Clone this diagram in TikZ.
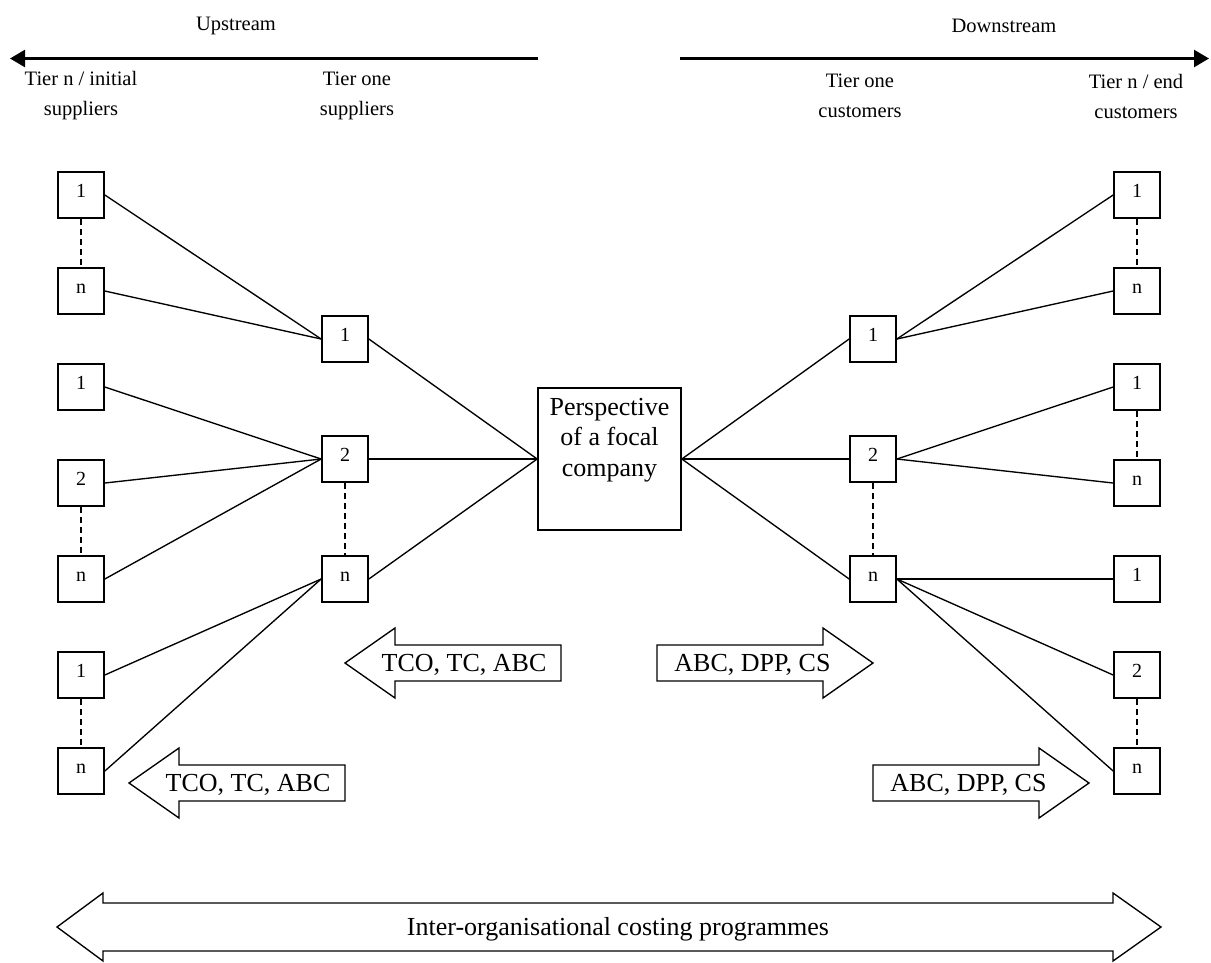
\documentclass[tikz,border=0pt]{standalone}
\usepackage{fontspec}
\setmainfont{Liberation Serif}
\usetikzlibrary{arrows.meta}
\begin{document}
\begin{tikzpicture}[x=1pt,y=-1pt,
  sbox/.style={draw,line width=1.7pt,minimum size=46pt,inner sep=0pt,text height=14pt,text depth=10pt,font=\fontsize{20}{24}\selectfont},
  link/.style={line width=1.35pt},
  dotlink/.style={line width=1.35pt,dash pattern=on 6pt off 4pt},
  blk/.style={draw,line width=1.35pt,line join=miter},
  small/.style={font=\fontsize{20.5}{30}\selectfont,align=center,inner sep=0pt},
  big/.style={font=\fontsize{26}{30.5}\selectfont,align=center,inner sep=0pt},
  headarrow/.style={line width=2.4pt,-{Triangle[length=15pt,width=17pt]}},
]
\useasboundingbox (0,0) rectangle (1211,962);

% header
\node[small] (upstream) at (236,26) {Upstream};
\node[small] (downstream) at (1004,26) {Downstream};
\coordinate (upR) at (538,58.5);
\coordinate (upL) at (10,58.5);
\coordinate (dnL) at (680,58.5);
\coordinate (dnR) at (1209,58.5);
\draw[headarrow] (upR) -- (upL);
\draw[headarrow] (dnL) -- (dnR);
\node[small] (tierninit) at (81,96) {Tier n / initial\\suppliers};
\node[small] (tieronesup) at (357,96) {Tier one\\suppliers};
\node[small] (tieronecus) at (860,96) {Tier one\\customers};
\node[small] (tiernend) at (1136,96) {Tier n / end\\customers};

% left end column
\node[sbox] (la1) at (81,195) {1};
\node[sbox] (lan) at (81,291) {n};
\node[sbox] (lb1) at (81,387) {1};
\node[sbox] (lb2) at (81,483) {2};
\node[sbox] (lbn) at (81,579) {n};
\node[sbox] (lc1) at (81,675) {1};
\node[sbox] (lcn) at (81,771) {n};
% left tier one
\node[sbox] (t1) at (345,339) {1};
\node[sbox] (t2) at (345,459) {2};
\node[sbox] (tn) at (345,579) {n};
% focal
\node[draw,line width=1.7pt,minimum width=143pt,minimum height=142pt,inner sep=0pt] (focal) at (609.5,459) {};
\node[big] (focaltext) at (609.5,440) {Perspective\\of a focal\\company};
% right tier one
\node[sbox] (r1) at (873,339) {1};
\node[sbox] (r2) at (873,459) {2};
\node[sbox] (rn) at (873,579) {n};
% right end column
\node[sbox] (ra1) at (1137,195) {1};
\node[sbox] (ran) at (1137,291) {n};
\node[sbox] (rb1) at (1137,387) {1};
\node[sbox] (rbn) at (1137,483) {n};
\node[sbox] (rc1) at (1137,579) {1};
\node[sbox] (rc2) at (1137,675) {2};
\node[sbox] (rcn) at (1137,771) {n};

% dashed
\draw[dotlink] (la1) -- (lan);
\draw[dotlink] (lb2) -- (lbn);
\draw[dotlink] (lc1) -- (lcn);
\draw[dotlink] (t2) -- (tn);
\draw[dotlink] (r2) -- (rn);
\draw[dotlink] (ra1) -- (ran);
\draw[dotlink] (rb1) -- (rbn);
\draw[dotlink] (rc2) -- (rcn);

% links left
\draw[link] (la1.east) -- (t1.west);
\draw[link] (lan.east) -- (t1.west);
\draw[link] (lb1.east) -- (t2.west);
\draw[link] (lb2.east) -- (t2.west);
\draw[link] (lbn.east) -- (t2.west);
\draw[link] (lc1.east) -- (tn.west);
\draw[link] (lcn.east) -- (tn.west);
\draw[link] (t1.east) -- (focal.west);
\draw[link] (t2.east) -- (focal.west);
\draw[link] (tn.east) -- (focal.west);
% links right
\draw[link] (focal.east) -- (r1.west);
\draw[link] (focal.east) -- (r2.west);
\draw[link] (focal.east) -- (rn.west);
\draw[link] (r1.east) -- (ra1.west);
\draw[link] (r1.east) -- (ran.west);
\draw[link] (r2.east) -- (rb1.west);
\draw[link] (r2.east) -- (rbn.west);
\draw[link] (rn.east) -- (rc1.west);
\draw[link] (rn.east) -- (rc2.west);
\draw[link] (rn.east) -- (rcn.west);

% block arrows
\draw[blk] (345,663) -- ++(50,-35) -- ++(0,17) -- ++(166,0) -- ++(0,36) -- ++(-166,0) -- ++(0,17) -- cycle;
\node[big] (tcoA) at (464,665) {TCO, TC, ABC};
\draw[blk] (129,783) -- ++(50,-35) -- ++(0,17) -- ++(166,0) -- ++(0,36) -- ++(-166,0) -- ++(0,17) -- cycle;
\node[big] (tcoB) at (248,785) {TCO, TC, ABC};
\draw[blk] (873,663) -- ++(-50,-35) -- ++(0,17) -- ++(-166,0) -- ++(0,36) -- ++(166,0) -- ++(0,17) -- cycle;
\node[big] (abcA) at (752.5,665) {ABC, DPP, CS};
\draw[blk] (1089,783) -- ++(-50,-35) -- ++(0,17) -- ++(-166,0) -- ++(0,36) -- ++(166,0) -- ++(0,17) -- cycle;
\node[big] (abcB) at (968.5,785) {ABC, DPP, CS};

\draw[blk] (57,927) -- (103,893) -- (103,903) -- (1113,903) -- (1113,893) -- (1161,927) -- (1113,961) -- (1113,951) -- (103,951) -- (103,961) -- cycle;
\node[big] (inter) at (618,929) {Inter-organisational costing programmes};
\end{tikzpicture}
\end{document}
